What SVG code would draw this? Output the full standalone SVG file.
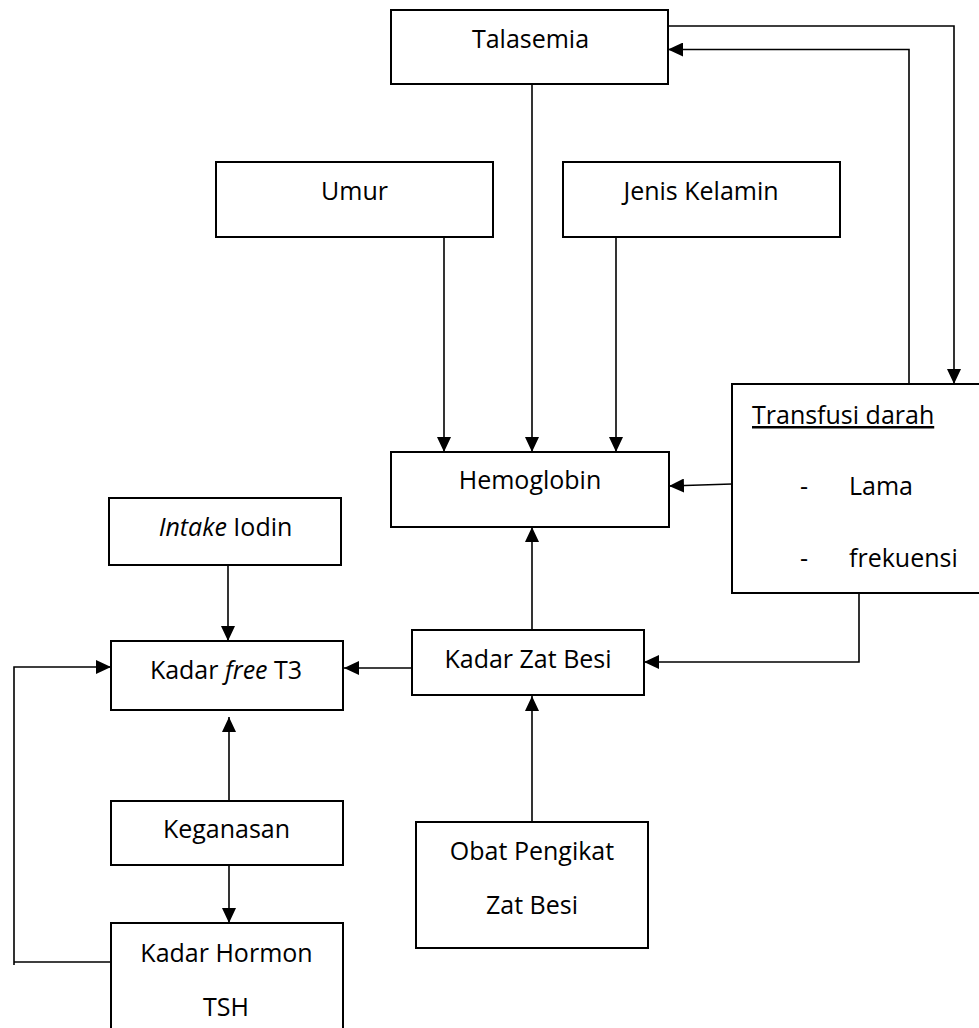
<svg xmlns="http://www.w3.org/2000/svg" width="979" height="1028" viewBox="0 0 979 1028">
<defs>
<marker id="ah" markerUnits="userSpaceOnUse" markerWidth="15" markerHeight="14" refX="15" refY="7" orient="auto">
<path d="M0,0 L15,7 L0,14 z" fill="#000"/>
</marker>
<style>
.box{fill:#fff;stroke:#000;stroke-width:2}
.t{font-family:"Open Sans","Noto Sans",sans-serif;font-size:25px;fill:#000;text-anchor:middle}
.ts{font-family:"Open Sans","Noto Sans",sans-serif;font-size:25px;fill:#000}
.c{fill:none;stroke:#000;stroke-width:1.6}
.a{marker-end:url(#ah)}
</style>
</defs>
<rect width="979" height="1028" fill="#fff"/>
<g id="connectors">
<path class="c" d="M668,26 H954 V384" marker-end="url(#ah)"/>
<path class="c" d="M909,384 V49.5 H668" marker-end="url(#ah)"/>
<path class="c" d="M532,84 V452" marker-end="url(#ah)"/>
<path class="c" d="M444,237 V452" marker-end="url(#ah)"/>
<path class="c" d="M616,237 V452" marker-end="url(#ah)"/>
<path class="c" d="M732,484 L669,486" marker-end="url(#ah)"/>
<path class="c" d="M859,593 V662 H644" marker-end="url(#ah)"/>
<path class="c" d="M532,630 V527" marker-end="url(#ah)"/>
<path class="c" d="M532,822 V696" marker-end="url(#ah)"/>
<path class="c" d="M412,668 H344" marker-end="url(#ah)"/>
<path class="c" d="M228,565 V641" marker-end="url(#ah)"/>
<path class="c" d="M229,801 V717" marker-end="url(#ah)"/>
<path class="c" d="M229,865 V923" marker-end="url(#ah)"/>
<path class="c" d="M111,962 H14 M14,965 V667 H111" marker-end="url(#ah)"/>
</g>
<g id="talasemia"><rect class="box" x="391" y="10" width="277" height="74"/><text class="t" x="530.5" y="48">Talasemia</text></g>
<g id="umur"><rect class="box" x="216" y="162" width="277" height="75"/><text class="t" x="354.5" y="200">Umur</text></g>
<g id="jenis-kelamin"><rect class="box" x="563" y="162" width="277" height="75"/><text class="t" x="701" y="200">Jenis Kelamin</text></g>
<g id="hemoglobin"><rect class="box" x="391" y="452" width="278" height="75"/><text class="t" x="530" y="489">Hemoglobin</text></g>
<g id="transfusi"><rect class="box" x="732" y="384" width="250" height="209"/>
<text class="ts" x="752" y="424" text-decoration="underline">Transfusi darah</text>
<text class="ts" x="800" y="495">-</text><text class="ts" x="849" y="495">Lama</text>
<text class="ts" x="800" y="567">-</text><text class="ts" x="849" y="567">frekuensi</text></g>
<g id="intake-iodin"><rect class="box" x="109" y="498" width="232" height="67"/><text class="t" x="225.5" y="536"><tspan font-style="italic">Intake</tspan> Iodin</text></g>
<g id="kadar-free-t3"><rect class="box" x="111" y="641" width="232" height="69"/><text class="t" x="226" y="679">Kadar <tspan font-style="italic">free</tspan> T3</text></g>
<g id="kadar-zat-besi"><rect class="box" x="412" y="630" width="232" height="65"/><text class="t" x="528" y="668">Kadar Zat Besi</text></g>
<g id="keganasan"><rect class="box" x="111" y="801" width="232" height="64"/><text class="t" x="226.5" y="838">Keganasan</text></g>
<g id="kadar-hormon-tsh"><rect class="box" x="111" y="923" width="232" height="120"/><text class="t" x="226.5" y="962">Kadar Hormon</text><text class="t" x="226" y="1016">TSH</text></g>
<g id="obat-pengikat"><rect class="box" x="416" y="822" width="232" height="126"/><text class="t" x="532" y="860">Obat Pengikat</text><text class="t" x="532" y="914">Zat Besi</text></g>
</svg>
